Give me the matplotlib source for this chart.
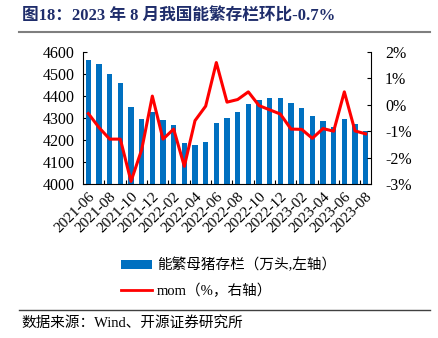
import matplotlib
matplotlib.use("Agg")
import matplotlib.pyplot as plt
from matplotlib.lines import Line2D
from matplotlib.patches import Patch
import numpy as np

months = ["2021-06","2021-07","2021-08","2021-09","2021-10","2021-11","2021-12",
          "2022-01","2022-02","2022-03","2022-04","2022-05","2022-06","2022-07",
          "2022-08","2022-09","2022-10","2022-11","2022-12","2023-01","2023-02",
          "2023-03","2023-04","2023-05","2023-06","2023-07","2023-08"]
sows = [4564, 4545, 4500, 4459, 4348, 4296, 4329, 4290, 4268, 4187, 4179, 4193,
        4278, 4299, 4327, 4364, 4381, 4390, 4392, 4369, 4345, 4307, 4287, 4260,
        4296, 4273, 4243]
mom = [-0.33, -0.86, -1.3, -1.3, -2.9, -1.7, 0.33, -1.3, -0.92, -2.33, -0.6, -0.05,
       1.6, 0.1, 0.2, 0.49, -0.03, -0.19, -0.35, -0.92, -0.93, -1.27, -0.9, -1.0,
       0.49, -0.99, -1.1]
left_ticks = [4000, 4100, 4200, 4300, 4400, 4500, 4600]
right_ticks = [-3, -2, -1, 0, 1, 2]

title = "图18：2023 年 8 月我国能繁存栏环比-0.7%"
source = "数据来源：Wind、开源证券研究所"
bar_label = "能繁母猪存栏（万头,左轴）"
line_label = "mom（%，右轴）"

FAM = ["Liberation Serif", "Noto Sans CJK SC", "DejaVu Sans"]
plt.rcParams["font.family"] = FAM

W, H = 439, 338
fig = plt.figure(figsize=(W/100, H/100), dpi=100)

L, R, T, B = 83, 371, 52, 184
ax = fig.add_axes([L/W, 1-B/H, (R-L)/W, (B-T)/H])
x = np.arange(len(months))
ax.bar(x, sows, width=0.5, color="#0070C0", zorder=2)
ax.set_xlim(-0.5, len(months)-0.5)
ax.set_ylim(4000, 4600)
ax.set_yticks(left_ticks)
ax.set_yticklabels([str(v) for v in left_ticks], fontsize=11.5)
ax.tick_params(axis="y", direction="in", length=3, pad=6, colors="black")

ax.set_xticks(np.arange(1.5, len(months), 2), minor=False)
ax.set_xticklabels([])
ax.tick_params(axis="x", direction="in", length=3)
ax.set_xticks(x[::2], minor=True)
ax.set_xticklabels(months[::2], minor=True, rotation=45, ha="right", va="top",
                   rotation_mode="anchor", fontsize=11)
ax.tick_params(axis="x", which="minor", length=0, pad=4)
for s in ["top", "right"]:
    ax.spines[s].set_visible(False)
ax.spines["left"].set_color("black")
ax.spines["bottom"].set_color("black")

ax2 = ax.twinx()
ax2.plot(x, mom, color="#FF0000", lw=2.2, zorder=3)
ax2.set_ylim(-3, 2)
ax2.set_yticks(right_ticks)
ax2.set_yticklabels([f"{v}%" for v in right_ticks], fontsize=11.5)
ax2.tick_params(axis="y", direction="in", length=3, pad=10)
for s in ["top", "left", "bottom"]:
    ax2.spines[s].set_visible(False)

navy = "#1F2D6B"
fig.text(22/W, 1-17/H, title, fontsize=12, fontweight="bold", color=navy,
         ha="left", va="center")
fig.add_artist(Line2D([19/W, 430/W], [1-32/H, 1-32/H], color="#7F7F7F", lw=1.5))
fig.add_artist(Line2D([19/W, 430/W], [1-309.5/H, 1-309.5/H], color="#404040", lw=1))
fig.text(21/W, 1-323/H, source, fontsize=10.5, color="black", ha="left", va="center")

handles = [Patch(facecolor="#0070C0"), Line2D([0], [0], color="#FF0000", lw=2)]
leg = fig.legend(handles, [bar_label, line_label], loc="upper left",
                 bbox_to_anchor=(108/W, 1-245/H), frameon=False, fontsize=10.5,
                 handlelength=2.1, handleheight=0.5, labelspacing=0.75,
                 handletextpad=0.35)

fig.savefig("out.png", dpi=100)
